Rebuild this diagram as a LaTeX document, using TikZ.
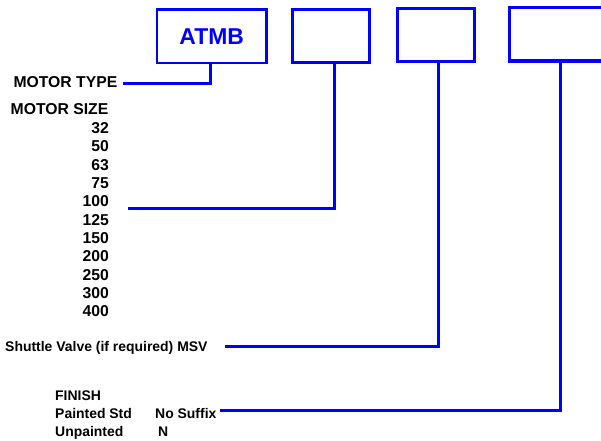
\documentclass[tikz,border=0pt]{standalone}
\usepackage{fontspec}
\setmainfont{Liberation Sans}
\begin{document}
\begin{tikzpicture}[x=1bp, y=-1bp]
    \tikzstyle{box} = [rectangle, draw=blue, line width=2.9bp, minimum width=77.5bp, minimum height=53.5bp, inner sep=0pt]
    \tikzstyle{conn} = [draw=blue, line width=3bp]
    \tikzstyle{big} = [inner sep=0pt, font=\fontsize{15.8}{19}\selectfont\bfseries]
    \tikzstyle{small} = [inner sep=0pt, font=\fontsize{14}{17}\selectfont\bfseries]
    \useasboundingbox (0,0) rectangle (601,441);
    % code boxes
    \node [box, minimum width=109.5bp, text=blue, font=\fontsize{23}{27}\selectfont\bfseries] (b1) at (211.7,36.3) {ATMB};
    \node [box] (b2) at (331,36.2) {};
    \node [box] (b3) at (435.8,35.2) {};
    \node [box, minimum width=101bp, line width=3.2bp] (b4) at (560,34.3) {};
    % labels
    \node [big, anchor=base east] (mtype) at (117.5,87.4) {MOTOR TYPE};
    \node [big, anchor=base west] (msize) at (10.5,114.2) {MOTOR SIZE};
    \foreach \s [count=\i from 0] in {32,50,63,75,100,125,150,200,250,300,400}
        \node [big, anchor=base east] (s\s) at (109,133.6+18.33*\i) {\s};
    \node [small, anchor=base west] (valve) at (5,351.5) {Shuttle Valve (if required) MSV};
    \node [small, anchor=base west] (finish) at (55,400) {FINISH};
    \node [small, anchor=base west] (paint) at (55,418.3) {Painted Std};
    \node [small, anchor=base west] (nosuf) at (155,418.3) {No Suffix};
    \node [small, anchor=base west] (unpaint) at (55,436) {Unpainted};
    \node [small, anchor=base west] (nn) at (158,436) {N};
    % connectors
    \coordinate (mt) at (123,84);
    \coordinate (sz) at (128,208.3);
    \coordinate (sv) at (225,346);
    \coordinate (fn) at (220,410.7);
    \draw [conn] ([xshift=-1.7bp]b1.south) |- (mt);
    \draw [conn] ([xshift=3bp]b2.south) |- (sz);
    \draw [conn] ([xshift=2.5bp]b3.south) |- (sv);
    \draw [conn] (b4.south) |- (fn);
\end{tikzpicture}
\end{document}
